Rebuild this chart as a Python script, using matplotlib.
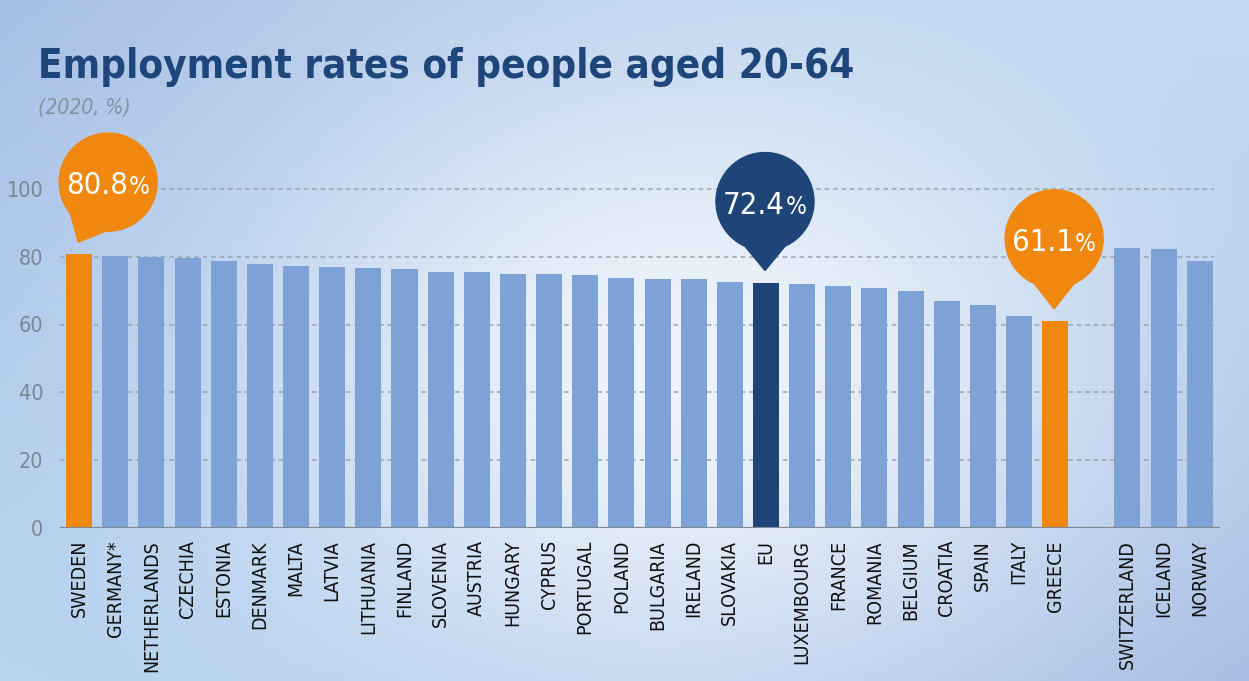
import numpy as np
import matplotlib
matplotlib.use("Agg")
import matplotlib.pyplot as plt
from matplotlib import font_manager
from matplotlib.patches import Circle, Polygon
from matplotlib.transforms import IdentityTransform


countries = ["SWEDEN", "GERMANY*", "NETHERLANDS", "CZECHIA", "ESTONIA", "DENMARK",
             "MALTA", "LATVIA", "LITHUANIA", "FINLAND", "SLOVENIA", "AUSTRIA",
             "HUNGARY", "CYPRUS", "PORTUGAL", "POLAND", "BULGARIA", "IRELAND",
             "SLOVAKIA", "EU", "LUXEMBOURG", "FRANCE", "ROMANIA", "BELGIUM",
             "CROATIA", "SPAIN", "ITALY", "GREECE"]
rates = [80.8, 80.1, 80.0, 79.7, 78.8, 77.8, 77.3, 76.9, 76.7, 76.5, 75.6, 75.5,
         75.0, 74.9, 74.7, 73.6, 73.4, 73.4, 72.5, 72.4, 72.1, 71.4, 70.8, 70.0,
         66.9, 65.7, 62.6, 61.1]
efta_countries = ["SWITZERLAND", "ICELAND", "NORWAY"]
efta_rates = [82.5, 82.2, 78.8]

highlights = {"SWEDEN": "orange", "EU": "navy", "GREECE": "orange"}
callouts = ["SWEDEN", "EU", "GREECE"]
yticks = [0, 20, 40, 60, 80, 100]

BLUE = "#7ea2d5"
ORANGE = "#f0870f"
NAVY = "#1f4478"
TITLE = "#1f467b"
GREY = "#7b8794"


def pick_font():
    # prefer a narrow / condensed sans if the system has one
    for f in font_manager.fontManager.ttflist:
        tag = (f.name + " " + f.fname).lower()
        if ("narrow" in tag or "condensed" in tag) and "mono" not in tag and "serif" not in f.name.lower():
            return f.name, f.stretch
    for n in ["Roboto", "Liberation Sans", "DejaVu Sans"]:
        try:
            font_manager.findfont(n, fallback_to_default=False)
            return n, "normal"
        except Exception:
            pass
    return "DejaVu Sans", "normal"


fam, stretch = pick_font()
plt.rcParams['font.family'] = [fam, 'DejaVu Sans']
plt.rcParams['font.stretch'] = stretch


def fit_width(txt, target, renderer):
    w = txt.get_window_extent(renderer).width
    txt.set_fontsize(txt.get_fontsize() * target / w)


W, H = 1249, 681
fig = plt.figure(figsize=(W / 100, H / 100), dpi=100)

# background gradient
bg = fig.add_axes([0, 0, 1, 1])
bg.set_axis_off()
yy, xx = np.mgrid[0:1:200j, 0:1:360j]
tl = np.array([166, 190, 229]) / 255
tr = np.array([190, 216, 240]) / 255
bl = np.array([182, 211, 240]) / 255
br = np.array([163, 185, 227]) / 255
img = ((1 - xx)[..., None] * (1 - yy)[..., None] * tl + xx[..., None] * (1 - yy)[..., None] * tr
       + (1 - xx)[..., None] * yy[..., None] * bl + xx[..., None] * yy[..., None] * br)
glow = np.exp(-(((xx - 0.55) / 0.36) ** 2 + ((yy - 0.55) / 0.5) ** 2))
white = np.array([0.96, 0.975, 0.99])
img = img * (1 - 0.9 * glow[..., None]) + white * 0.9 * glow[..., None]
bg.imshow(img, extent=[0, 1, 0, 1], aspect='auto', zorder=0)
bg.set_xlim(0, 1)
bg.set_ylim(0, 1)

ax = fig.add_axes([60 / W, (H - 527.5) / H, 1160 / W, 406 / H])
ax.set_facecolor("none")

x_main = np.arange(len(countries))
x_efta = np.arange(len(efta_countries)) + len(countries) + 1
colors = [ORANGE if highlights.get(c) == "orange" else NAVY if highlights.get(c) == "navy" else BLUE
          for c in countries]

ax.bar(x_main, rates, width=0.72, color=colors, zorder=3)
ax.bar(x_efta, efta_rates, width=0.72, color=BLUE, zorder=3)

ax.set_xlim(-0.53, 31.56)
ax.set_ylim(0, 120)
ax.set_yticks(yticks)
ax.set_yticklabels([str(t) for t in yticks], color=GREY, fontsize=18)
for t in yticks[1:]:
    ax.axhline(t, xmin=0, xmax=0.995, color="#9aa5b1", lw=1.1, ls=(0, (3, 2.5)), zorder=1)
ax.axhline(0, color="#7f8a95", lw=1.6, zorder=4)

ax.set_xticks(list(x_main) + list(x_efta))
ax.set_xticklabels(countries + efta_countries, rotation=90, fontsize=17, color="#111111")
ax.tick_params(axis='both', length=0)
ax.tick_params(axis='y', pad=12)
ax.tick_params(axis='x', pad=9)
for s in ax.spines.values():
    s.set_visible(False)

title = fig.text(38 / W, 1 - 78 / H, "Employment rates of people aged 20-64", fontsize=40,
                 fontweight="bold", color=TITLE, ha="left", va="baseline")
sub = fig.text(38 / W, 1 - 114 / H, "(2020, %)", fontsize=16, style="italic", color="#8592a0",
               ha="left", va="baseline", fontweight="light")

fig.canvas.draw()
rend = fig.canvas.get_renderer()
fit_width(title, 816, rend)
fit_width(sub, 93, rend)

# size the labels so they span about the same length as in the reference
labels = ax.get_xticklabels()
w = labels[2].get_window_extent(rend).height
for lab in labels:
    lab.set_fontsize(17 * 132 / w)
ylabs = ax.get_yticklabels()
w = ylabs[-1].get_window_extent(rend).width
for lab in ylabs:
    lab.set_fontsize(18 * 37 / w)

# callout bubbles, drawn in pixel space
fig.canvas.draw()
offsets = {"SWEDEN": (30, 60), "EU": (0, 69), "GREECE": (0, 70)}
for name in callouts:
    i = countries.index(name)
    val = rates[i]
    bx, by = ax.transData.transform((x_main[i], val))
    tipx, tipy = bx - 1, by + 12
    dx, dy = offsets[name]
    cx, cy = tipx + dx, tipy + dy
    r = 49
    col = NAVY if highlights[name] == "navy" else ORANGE
    ang = np.arctan2(tipy - cy, tipx - cx)
    a1, a2 = ang - 0.42, ang + 0.42
    tri = Polygon([[tipx, tipy], [cx + r * np.cos(a1), cy + r * np.sin(a1)],
                   [cx + r * np.cos(a2), cy + r * np.sin(a2)]],
                  closed=True, color=col, transform=IdentityTransform(), zorder=10)
    circ = Circle((cx, cy), r, color=col, transform=IdentityTransform(), zorder=10)
    fig.add_artist(tri)
    fig.add_artist(circ)
    num = fig.text((cx + 20) / W, (cy - 12) / H, f"{val:.1f}", fontsize=25, color="white",
                   ha="right", va="baseline", zorder=11, fontweight="medium")
    pct = fig.text((cx + 21) / W, (cy - 12) / H, "%", fontsize=19, color="white",
                   ha="left", va="baseline", zorder=11)
    fit_width(num, 62, rend)
    fit_width(pct, 21, rend)

fig.savefig("out.png", dpi=100)
